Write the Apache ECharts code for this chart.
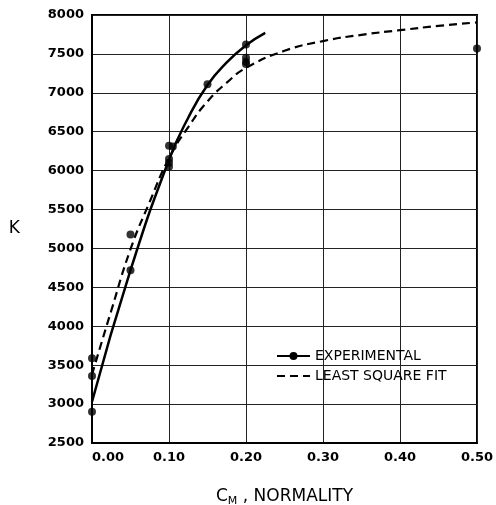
<!DOCTYPE html>
<html>
<head>
<meta charset="utf-8">
<script src="https://cdn.jsdelivr.net/npm/echarts@6/dist/echarts.min.js"></script>
<style>
html, body { margin: 0; padding: 0; background: #fff; }
#chart { width: 496px; height: 505px; }
</style>
</head>
<body>
<div id="chart"></div>
<script>
// experimental points
var expX = [0, 0, 0, 0.05, 0.05, 0.10, 0.105, 0.10, 0.10, 0.10, 0.15, 0.20, 0.20, 0.20, 0.20, 0.50];
var expK = [3590, 3360, 2900, 5180, 4720, 6320, 6310, 6150, 6100, 6050, 7110, 7620, 7450, 7400, 7370, 7570];

// hand drawn experimental curve
var curveX = [0, 0.05, 0.10, 0.125, 0.15, 0.175, 0.20, 0.225];
var curveK = [3030, 4720, 6140, 6680, 7100, 7390, 7610, 7770];

// least square fit curve
var fitX = [0, 0.025, 0.05, 0.075, 0.10, 0.125, 0.15, 0.175, 0.20, 0.25, 0.30, 0.35, 0.40, 0.45, 0.50];
var fitK = [3380, 4200, 4990, 5600, 6160, 6560, 6890, 7130, 7320, 7540, 7665, 7745, 7805, 7860, 7905];

function pairs(xs, ys) {
	var out = [];
	for (var i = 0; i < xs.length; i++) {
		out.push([xs[i], ys[i]]);
	}
	return out;
}

var font = 'DejaVu Sans';
var myChart = echarts.init(document.getElementById('chart'));

var option = {
	animation: false,
	backgroundColor: '#fff',
	grid: {
		left: 92, right: 19, top: 15, bottom: 62,
		outerBoundsMode: 'none',
		containLabel: false,
		show: true, borderColor: '#000', borderWidth: 2
	},
	legend: {
		orient: 'vertical',
		left: 276, top: 349,
		padding: 0,
		itemGap: 6,
		itemWidth: 33,
		itemHeight: 10,
		data: [
			{ name: 'EXPERIMENTAL' },
			{ name: 'LEAST SQUARE FIT', itemStyle: { opacity: 0 } }
		],
		textStyle: { fontFamily: font, fontSize: 14, color: '#000' }
	},
	xAxis: {
		type: 'value',
		min: 0, max: 0.5, interval: 0.1,
		name: '{a|C}{b|M}{a| , NORMALITY}',
		nameLocation: 'middle',
		nameGap: 43,
		nameTextStyle: {
			rich: {
				a: { fontFamily: font, fontSize: 17, color: '#000' },
				b: { fontFamily: font, fontSize: 11, color: '#000', padding: [10, 0, 0, 0] }
			}
		},
		axisLine: { lineStyle: { color: '#000', width: 2 } },
		axisTick: { show: false },
		axisLabel: {
			margin: 8,
			alignMinLabel: 'left',
			fontFamily: font, fontSize: 13, fontWeight: 'bold', color: '#000',
			formatter: function (v) { return (Math.abs(v) < 1e-9 ? 0 : v).toFixed(2); }
		},
		splitLine: { show: true, lineStyle: { color: '#222', width: 1 } }
	},
	yAxis: {
		type: 'value',
		min: 2500, max: 8000, interval: 500,
		name: 'K',
		nameLocation: 'middle',
		nameRotate: 0,
		nameGap: 72,
		nameTextStyle: { fontFamily: font, fontSize: 17, color: '#000' },
		axisLine: { show: true, lineStyle: { color: '#000', width: 2 } },
		axisTick: { show: false },
		axisLabel: {
			margin: 8, fontFamily: font, fontSize: 13, fontWeight: 'bold', color: '#000',
			formatter: function (v) { return String(v); }
		},
		splitLine: { show: true, lineStyle: { color: '#222', width: 1 } }
	},
	series: [
		{
			name: 'EXPERIMENTAL',
			type: 'line',
			data: pairs(curveX, curveK),
			smooth: true,
			symbol: 'circle',
			symbolSize: 8,
			showSymbol: false,
			itemStyle: { color: '#000' },
			lineStyle: { color: '#000', width: 2.5 },
			z: 3
		},
		{
			name: 'LEAST SQUARE FIT',
			type: 'line',
			data: pairs(fitX, fitK),
			smooth: true,
			symbol: 'none',
			itemStyle: { color: '#000' },
			lineStyle: { color: '#000', width: 2.2, type: [8, 5] },
			z: 3
		},
		{
			name: 'EXPERIMENTAL',
			type: 'scatter',
			data: pairs(expX, expK),
			symbol: 'circle',
			symbolSize: 8,
			itemStyle: { color: '#000' },
			clip: false,
			z: 4
		}
	]
};

myChart.setOption(option);
</script>
</body>
</html>
